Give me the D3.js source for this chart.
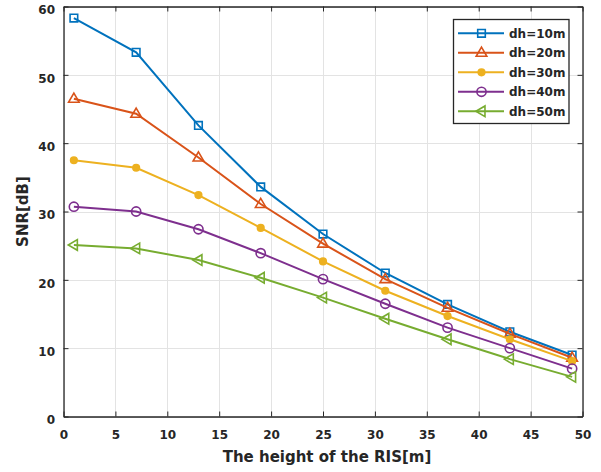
<!DOCTYPE html>
<html><head><meta charset="utf-8">
<script src="https://cdn.jsdelivr.net/npm/d3@7"></script>
<style>
html,body{margin:0;padding:0;background:#fff;}
svg{display:block;}
text{font-family:"DejaVu Sans",sans-serif;font-weight:bold;fill:#262626;}
</style></head>
<body>
<div id="chart"></div>
<script>
const xValues = [1, 7, 13, 19, 25, 31, 37, 43, 49];
const seriesNames = ["dh=10m", "dh=20m", "dh=30m", "dh=40m", "dh=50m"];
const dh10 = [58.3, 53.3, 42.6, 33.6, 26.7, 21.0, 16.4, 12.4, 9.0];
const dh20 = [46.5, 44.3, 37.9, 31.1, 25.3, 20.1, 15.9, 12.1, 8.6];
const dh30 = [37.5, 36.4, 32.4, 27.6, 22.7, 18.4, 14.7, 11.3, 8.1];
const dh40 = [30.7, 30.0, 27.4, 23.9, 20.1, 16.5, 13.0, 10.0, 7.0];
const dh50 = [25.1, 24.6, 22.9, 20.3, 17.4, 14.3, 11.3, 8.4, 5.8];
const xTicks = [0, 5, 10, 15, 20, 25, 30, 35, 40, 45, 50];
const yTicks = [0, 10, 20, 30, 40, 50, 60];
const xLabel = "The height of the RIS[m]";
const yLabel = "SNR[dB]";

const allSeries = [dh10, dh20, dh30, dh40, dh50];
const colors = ["#0072BD", "#D95319", "#EDB120", "#7E2F8E", "#77AC30"];
const markers = ["square", "triUp", "dot", "circle", "triLeft"];

const W = 601, H = 472;
const L = 63.5, R = 582.5, T = 6.5, B = 416.5;
const svg = d3.select("#chart").append("svg").attr("width", W).attr("height", H);

const x = d3.scaleLinear().domain([0, 50]).range([L, R]);
const y = d3.scaleLinear().domain([0, 60]).range([B, T]);

// grid
const grid = svg.append("g");
grid.selectAll("line.gx").data(xTicks).join("line")
  .attr("x1", d => Math.round(x(d)) + 0.5).attr("x2", d => Math.round(x(d)) + 0.5)
  .attr("y1", T).attr("y2", B).attr("stroke", "#e3e3e3").attr("stroke-width", 1);
grid.selectAll("line.gy").data(yTicks).join("line")
  .attr("y1", d => Math.round(y(d)) + 0.5).attr("y2", d => Math.round(y(d)) + 0.5)
  .attr("x1", L).attr("x2", R).attr("stroke", "#e3e3e3").attr("stroke-width", 1);

// axes (bottom/left with labels, top/right mirrored ticks)
const axCol = "#262626";
const axB = svg.append("g").attr("transform", `translate(0,${B})`)
  .call(d3.axisBottom(x).tickValues(xTicks).tickSizeInner(-5).tickSizeOuter(0).tickPadding(14));
const axL = svg.append("g").attr("transform", `translate(${L},0)`)
  .call(d3.axisLeft(y).tickValues(yTicks).tickSizeInner(-5).tickSizeOuter(0).tickPadding(9));
const axT = svg.append("g").attr("transform", `translate(0,${T})`)
  .call(d3.axisTop(x).tickValues(xTicks).tickSizeInner(-5).tickSizeOuter(0).tickFormat(""));
const axR = svg.append("g").attr("transform", `translate(${R},0)`)
  .call(d3.axisRight(y).tickValues(yTicks).tickSizeInner(-5).tickSizeOuter(0).tickFormat(""));
[axB, axL, axT, axR].forEach(g => {
  g.select(".domain").attr("stroke", axCol).attr("stroke-width", 1.3);
  g.selectAll(".tick line").attr("stroke", axCol).attr("stroke-width", 1);
  g.selectAll(".tick text").attr("fill", "#333").style("font-size", "12px")
    .style("font-family", '"DejaVu Sans",sans-serif').style("font-weight", "bold");
});
axB.selectAll(".tick text").attr("dy", "0.71em");
axL.selectAll(".tick text").attr("dy", "0.62em").attr("x", -8.5);

// markers
function markerPath(type) {
  switch (type) {
    case "square": { const s = 3.8; return `M${-s},${-s}H${s}V${s}H${-s}Z`; }
    case "triUp": { const r = 5.6; return `M0,${-r}L${r*0.95},${r*0.62}L${-r*0.95},${r*0.62}Z`; }
    case "triLeft": { const r = 5.6; return `M${-r},0L${r*0.62},${-r*0.95}L${r*0.62},${r*0.95}Z`; }
    case "circle": { const r = 4.6; return `M${r},0A${r},${r} 0 1,1 ${-r},0A${r},${r} 0 1,1 ${r},0Z`; }
    case "dot": { const r = 3.3; return `M${r},0A${r},${r} 0 1,1 ${-r},0A${r},${r} 0 1,1 ${r},0Z`; }
  }
}

const line = d3.line().x((d, i) => x(xValues[i])).y(d => y(d));
const plot = svg.append("g");
allSeries.forEach((vals, si) => {
  plot.append("path").datum(vals).attr("d", line)
    .attr("fill", "none").attr("stroke", colors[si]).attr("stroke-width", 2);
  plot.selectAll(null).data(vals).join("path")
    .attr("transform", (d, i) => `translate(${x(xValues[i])},${y(d)})`)
    .attr("d", markerPath(markers[si]))
    .attr("fill", markers[si] === "dot" ? colors[si] : "none")
    .attr("stroke", colors[si]).attr("stroke-width", 1.6);
});

// axis labels
svg.append("text").attr("x", (L + R) / 2 + 4).attr("y", 462)
  .attr("text-anchor", "middle").style("font-size", "15px").text(xLabel);
svg.append("text").attr("transform", `translate(27.5,${(T + B) / 2}) rotate(-90)`)
  .attr("text-anchor", "middle").style("font-size", "15px").text(yLabel);

// legend
const lg = svg.append("g");
const lx0 = 453.5, ly0 = 19.5, lw = 115.5, lh = 104;
lg.append("rect").attr("x", lx0).attr("y", ly0).attr("width", lw).attr("height", lh)
  .attr("fill", "#fff").attr("stroke", "#262626").attr("stroke-width", 1.3);
const rowY = d3.scaleLinear().domain([0, 4]).range([33.3, 111.3]);
seriesNames.forEach((name, si) => {
  const cy = rowY(si);
  lg.append("line").attr("x1", 458).attr("x2", 504).attr("y1", cy).attr("y2", cy)
    .attr("stroke", colors[si]).attr("stroke-width", 2);
  lg.append("path").attr("transform", `translate(481.5,${cy})`).attr("d", markerPath(markers[si]))
    .attr("fill", markers[si] === "dot" ? colors[si] : "none")
    .attr("stroke", colors[si]).attr("stroke-width", 1.6);
  lg.append("text").attr("x", 509).attr("y", cy + 4.4).style("font-size", "12px").text(name);
});
</script>
</body></html>
